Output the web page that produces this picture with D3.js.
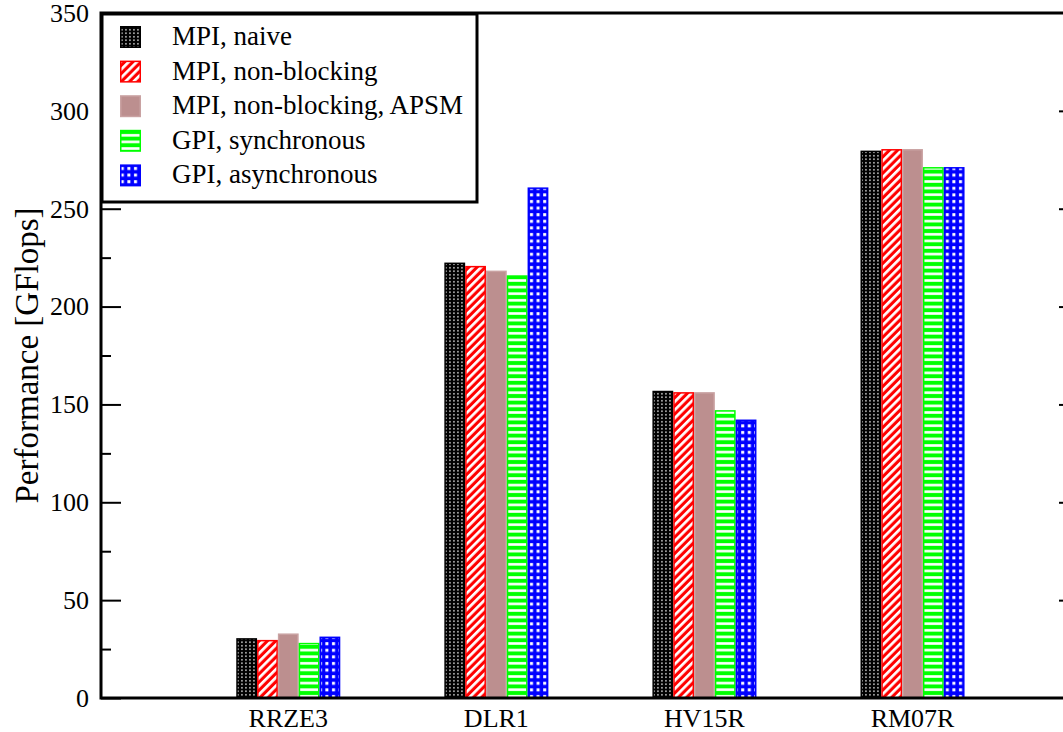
<!DOCTYPE html>
<html>
<head>
<meta charset="utf-8">
<script src="https://cdn.jsdelivr.net/npm/d3@7"></script>
</head>
<body style="margin:0; background:#fff">
<script>
// categories and series
const categories = ["RRZE3", "DLR1", "HV15R", "RM07R"];
const seriesNames = ["MPI, naive", "MPI, non-blocking", "MPI, non-blocking, APSM", "GPI, synchronous", "GPI, asynchronous"];

// values (GFlops)
const mpiNaive = [30.2, 222.1, 156.6, 279.3];
const mpiNonBlocking = [29.3, 220.4, 155.9, 280.1];
const mpiApsm = [32.6, 218.0, 155.9, 280.1];
const gpiSync = [27.8, 215.6, 146.7, 270.9];
const gpiAsync = [31.0, 260.5, 141.9, 270.9];

const yTicks = [0, 50, 100, 150, 200, 250, 300, 350];
const yMinorTicks = [25, 75, 125, 175, 225, 275, 325];

const allSeries = [mpiNaive, mpiNonBlocking, mpiApsm, gpiSync, gpiAsync];

const W = 1063, H = 732;
const plotL = 101, plotR = 1079, plotT = 13, plotB = 698;
const serif = "Liberation Serif";

var svg = d3.select("body").append("svg")
    .attr("width", W)
    .attr("height", H);

// ---- patterns (grace-like fills) ----
var defs = svg.append("defs");

var pDots = defs.append("pattern").attr("id", "p0")
    .attr("patternUnits", "userSpaceOnUse").attr("width", 4).attr("height", 3.5);
pDots.append("rect").attr("width", 4).attr("height", 3.5).attr("fill", "#000");
pDots.append("rect").attr("x", 1.2).attr("y", 1).attr("width", 1.5).attr("height", 1.5).attr("fill", "#ddd");

var pDiag = defs.append("pattern").attr("id", "p1")
    .attr("patternUnits", "userSpaceOnUse").attr("width", 5.8).attr("height", 10)
    .attr("patternTransform", "rotate(45)");
pDiag.append("rect").attr("width", 5.8).attr("height", 10).attr("fill", "#ff0000");
pDiag.append("rect").attr("width", 2.7).attr("height", 10).attr("fill", "#fff");

var pHoriz = defs.append("pattern").attr("id", "p3")
    .attr("patternUnits", "userSpaceOnUse").attr("width", 10).attr("height", 6.6);
pHoriz.append("rect").attr("width", 10).attr("height", 6.6).attr("fill", "#00ff00");
pHoriz.append("rect").attr("y", 2).attr("width", 10).attr("height", 2.6).attr("fill", "#fff");

var pGrid = defs.append("pattern").attr("id", "p4")
    .attr("patternUnits", "userSpaceOnUse").attr("width", 6.6).attr("height", 6.6);
pGrid.append("rect").attr("width", 6.6).attr("height", 6.6).attr("fill", "#0000ff");
pGrid.append("rect").attr("x", 2).attr("y", 2).attr("width", 3).attr("height", 3).attr("fill", "#fff");

const fills = ["url(#p0)", "url(#p1)", "#bc8f8f", "url(#p3)", "url(#p4)"];
const strokes = ["#000", "#ff0000", "#c9a2a2", "#00ff00", "#0000ff"];

// ---- scales ----
var x = d3.scaleLinear().domain([0.1, 4.8]).range([plotL, plotR]);
var y = d3.scaleLinear().domain([0, 350]).range([plotB, plotT]);
const barW = 0.1;

// ---- bars ----
allSeries.forEach(function(vals, s) {
    svg.append("g").selectAll("rect")
      .data(vals)
      .enter().append("rect")
      .attr("x", (d, i) => x(i + 1 + (s - 2.5) * barW) + 0.75)
      .attr("y", d => y(d))
      .attr("width", (d, i) => x(i + 1 + barW) - x(i + 1) - 1.5)
      .attr("height", d => y(0) - y(d))
      .attr("fill", fills[s])
      .attr("stroke", strokes[s])
      .attr("stroke-width", 1.5);
});

// ---- axes ----
var axL = svg.append("g").attr("transform", `translate(${plotL},0)`)
    .call(d3.axisLeft(y).tickValues(yTicks).tickSize(-20).tickPadding(12));
svg.append("g").attr("transform", `translate(${plotL},0)`)
    .call(d3.axisLeft(y).tickValues(yMinorTicks).tickSize(-10).tickFormat(""));
svg.append("g").attr("transform", `translate(${plotR},0)`)
    .call(d3.axisRight(y).tickValues(yTicks.slice(1, -1)).tickSize(-20).tickFormat(""));
svg.selectAll(".domain").remove();
svg.selectAll(".tick line").attr("stroke", "#000").attr("stroke-width", 2);
axL.selectAll("text")
    .style("font-family", serif)
    .style("font-size", "26px")
    .attr("fill", "#000");

// frame
svg.append("rect")
    .attr("x", plotL).attr("y", plotT)
    .attr("width", plotR - plotL).attr("height", plotB - plotT)
    .attr("fill", "none").attr("stroke", "#000").attr("stroke-width", 3);

// category labels
svg.append("g").selectAll("text")
    .data(categories)
    .enter().append("text")
    .attr("x", (d, i) => x(i + 1))
    .attr("y", 727)
    .attr("text-anchor", "middle")
    .style("font-family", serif)
    .style("font-size", "26px")
    .text(d => d);

// y title
svg.append("text")
    .attr("transform", `translate(38,${(plotT + plotB) / 2}) rotate(-90)`)
    .attr("text-anchor", "middle")
    .style("font-family", serif)
    .style("font-size", "33px")
    .text("Performance [GFlops]");

// ---- legend ----
var lg = svg.append("g");
lg.append("rect")
    .attr("x", 102).attr("y", 14).attr("width", 375).attr("height", 188)
    .attr("fill", "#fff").attr("stroke", "#000").attr("stroke-width", 3);
seriesNames.forEach(function(name, s) {
    var cy = 37 + s * 34.6;
    lg.append("rect")
      .attr("x", 120.75).attr("y", cy - 10.25)
      .attr("width", 19.5).attr("height", 20.5)
      .attr("fill", fills[s]).attr("stroke", strokes[s]).attr("stroke-width", 1.5);
    lg.append("text")
      .attr("x", 172).attr("y", cy + 8)
      .style("font-family", serif)
      .style("font-size", "27px")
      .text(name);
});
</script>
</body>
</html>
